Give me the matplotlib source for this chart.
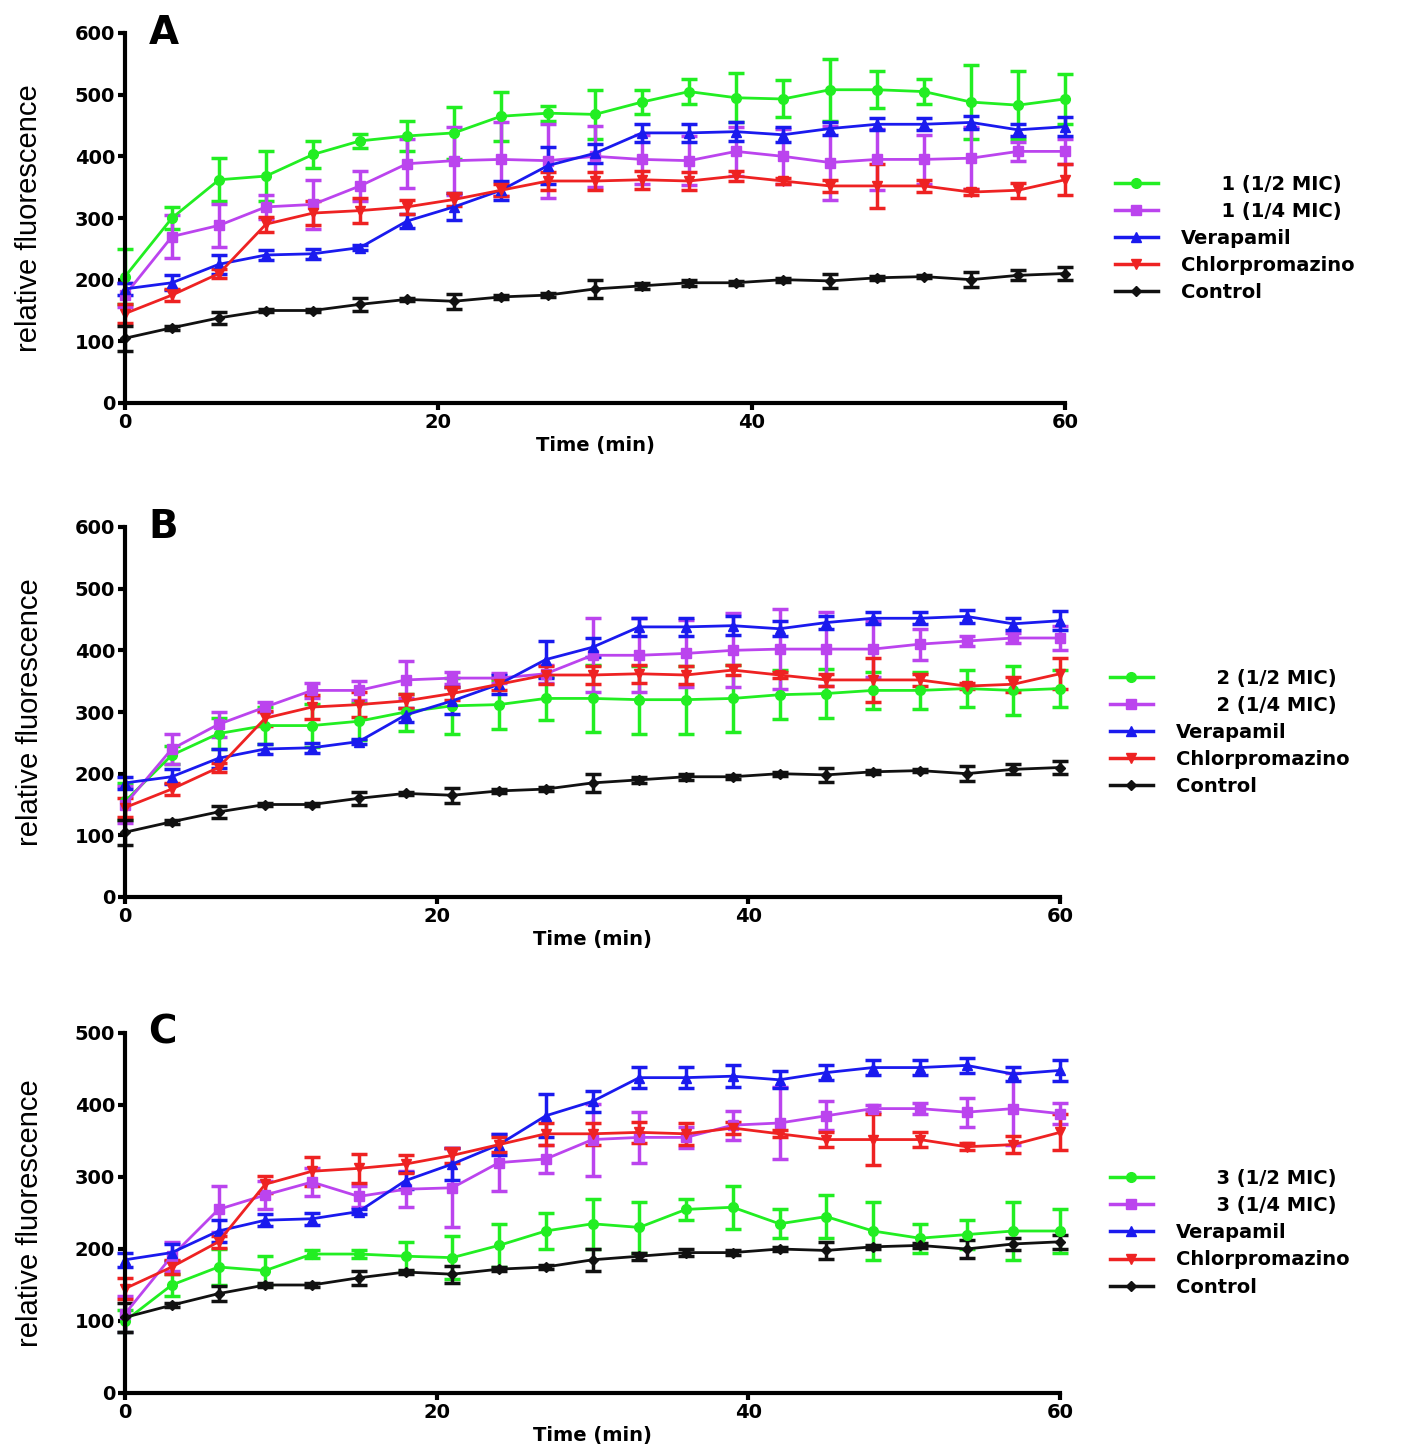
import numpy as np
import matplotlib
matplotlib.use("Agg")
import matplotlib.pyplot as plt
from matplotlib.lines import Line2D

# time points (min)
time = list(range(0, 61, 3))

# shared series (same in all three panels)
vera = [185, 195, 225, 240, 242, 252, 295, 318, 345, 385, 405, 438, 438, 440, 435, 445, 452, 452, 455, 443, 448]
vera_err = [10, 12, 15, 8, 8, 4, 12, 22, 15, 30, 15, 15, 15, 15, 12, 10, 10, 10, 10, 10, 15]
chlor = [145, 175, 210, 290, 308, 312, 318, 330, 345, 360, 360, 362, 360, 368, 360, 352, 352, 352, 342, 345, 362]
chlor_err = [15, 10, 8, 12, 20, 20, 12, 10, 10, 15, 15, 15, 15, 8, 5, 10, 35, 10, 5, 12, 25]
control = [105, 122, 138, 150, 150, 160, 168, 165, 172, 175, 185, 190, 195, 195, 200, 198, 203, 205, 200, 207, 210]
control_err = [20, 3, 10, 3, 3, 10, 3, 12, 3, 3, 15, 5, 5, 3, 3, 12, 3, 3, 12, 8, 10]

# compound 1
c1_half = [205, 300, 362, 368, 403, 425, 433, 438, 465, 470, 468, 488, 505, 495, 493, 508, 508, 505, 488, 483, 493]
c1_half_err = [45, 18, 35, 40, 22, 12, 25, 42, 40, 12, 40, 20, 20, 40, 30, 50, 30, 20, 60, 55, 40]
c1_quart = [175, 270, 288, 318, 322, 352, 388, 393, 395, 393, 400, 395, 393, 408, 400, 390, 395, 395, 397, 408, 408]
c1_quart_err = [20, 35, 35, 20, 40, 25, 40, 55, 60, 60, 50, 40, 40, 40, 45, 60, 50, 40, 50, 15, 20]

# compound 2
c2_half = [155, 230, 265, 278, 278, 285, 300, 310, 312, 322, 322, 320, 320, 322, 328, 330, 335, 335, 338, 335, 338]
c2_half_err = [30, 15, 25, 30, 35, 30, 30, 45, 40, 35, 55, 55, 55, 55, 40, 40, 30, 30, 30, 40, 30]
c2_quart = [150, 240, 280, 308, 335, 335, 352, 355, 355, 362, 392, 392, 395, 400, 402, 402, 402, 410, 415, 420, 420]
c2_quart_err = [30, 25, 20, 8, 12, 15, 30, 10, 8, 15, 60, 60, 55, 60, 65, 60, 45, 25, 8, 8, 20]

# compound 3
c3_half = [100, 150, 175, 170, 193, 193, 190, 188, 205, 225, 235, 230, 255, 258, 235, 245, 225, 215, 220, 225, 225]
c3_half_err = [15, 15, 25, 20, 5, 5, 20, 30, 30, 25, 35, 35, 15, 30, 20, 30, 40, 20, 20, 40, 30]
c3_quart = [110, 190, 255, 275, 293, 273, 283, 285, 320, 325, 352, 355, 355, 372, 375, 385, 395, 395, 390, 395, 388]
c3_quart_err = [25, 20, 32, 20, 20, 15, 25, 55, 40, 20, 50, 35, 15, 20, 50, 20, 5, 8, 20, 50, 15]

panels = [
    ("A", "1", c1_half, c1_half_err, c1_quart, c1_quart_err, 600),
    ("B", "2", c2_half, c2_half_err, c2_quart, c2_quart_err, 600),
    ("C", "3", c3_half, c3_half_err, c3_quart, c3_quart_err, 500),
]

W, H = 1418, 1454
fig = plt.figure(figsize=(W / 100, H / 100), dpi=100)

# axes boxes in pixels: left, top, right, bottom
boxes = [(125, 33, 1065, 403), (125, 527, 1060, 897), (125, 1033, 1060, 1393)]

green = "#22ee22"
purple = "#bb44ee"
blue = "#1a1aee"
red = "#ee2222"
black = "#111111"

for (letter, num, half, half_err, quart, quart_err, ymax), (l, t, r, b) in zip(panels, boxes):
    ax = fig.add_axes([l / W, 1 - b / H, (r - l) / W, (b - t) / H])
    series = [
        (half, half_err, green, "o", "      %s (1/2 MIC)" % num),
        (quart, quart_err, purple, "s", "      %s (1/4 MIC)" % num),
        (vera, vera_err, blue, "^", "Verapamil"),
        (chlor, chlor_err, red, "v", "Chlorpromazino"),
        (control, control_err, black, "D", "Control"),
    ]
    handles = []
    for y, e, c, m, lab in series:
        ms = 7 if m != "D" else 5
        ax.errorbar(time, y, yerr=e, color=c, marker=m, markersize=ms,
                    linewidth=2, elinewidth=2.5, capsize=6, capthick=2.5, clip_on=False)
        handles.append(Line2D([], [], color=c, marker=m, markersize=ms, linewidth=2.5, label=lab))

    ax.set_xlim(0, 60)
    ax.set_ylim(0, ymax)
    ax.set_xticks([0, 20, 40, 60])
    ax.set_yticks(range(0, ymax + 1, 100))
    for s in ["top", "right"]:
        ax.spines[s].set_visible(False)
    for s in ["left", "bottom"]:
        ax.spines[s].set_linewidth(3)
    ax.tick_params(direction="out", width=3, length=5, pad=2, labelsize=14)
    for lbl in ax.get_xticklabels() + ax.get_yticklabels():
        lbl.set_fontweight("bold")
    ax.set_xlabel("Time (min)", fontsize=14, fontweight="bold", labelpad=3)
    ax.set_ylabel("relative fluorescence", fontsize=21, family=["Liberation Sans", "DejaVu Sans"])
    ax.yaxis.set_label_coords(-0.087, 0.5)
    ax.text(0.025, 1.0, letter, transform=ax.transAxes, fontsize=28, fontweight="bold",
            va="center", ha="left")
    ax.legend(handles=handles, loc="center left", bbox_to_anchor=(1.045, 0.445), frameon=False,
              prop={"size": 14, "weight": "bold"}, handlelength=2.2, labelspacing=0.42,
              handletextpad=1.2, borderaxespad=0)

fig.savefig("out.png", dpi=100, facecolor="white")
